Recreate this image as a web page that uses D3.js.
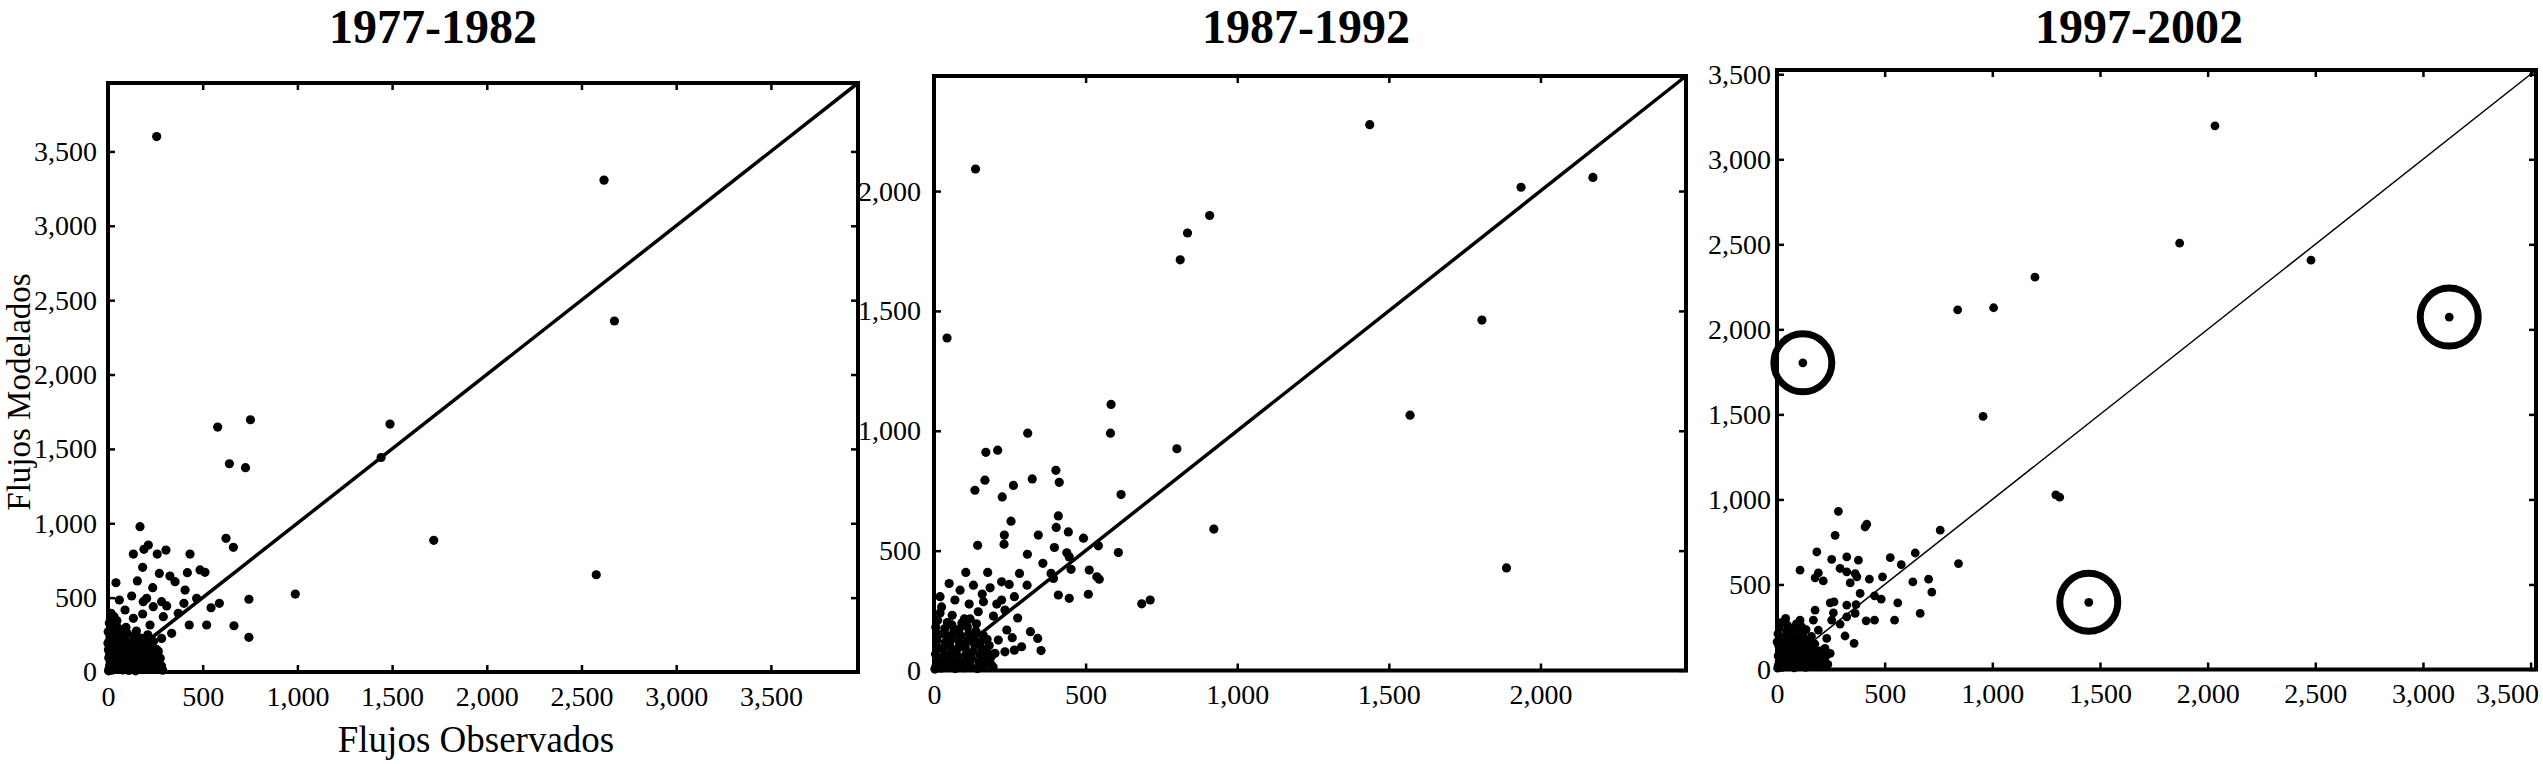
<!DOCTYPE html>
<html><head><meta charset="utf-8">
<script src="https://cdn.jsdelivr.net/npm/d3@7"></script>
<style>
body{margin:0;background:#fff}
text{font-family:"Liberation Serif","Times New Roman",serif;fill:#000}
</style>
</head><body><svg id="c" width="2543" height="764"></svg>
<script>
// ---------- data ----------
const titles = ["1977-1982", "1987-1992", "1997-2002"];
const xLabel = "Flujos Observados";
const yLabel = "Flujos Modelados";

const ticks1977 = [0, 500, 1000, 1500, 2000, 2500, 3000, 3500];
const ticks1987 = [0, 500, 1000, 1500, 2000];
const ticks1997 = [0, 500, 1000, 1500, 2000, 2500, 3000, 3500];
const axisMax = [3960, 2480, 3525];

// [observed, modelled]
const flows1977 = [
  [257,3600],[2619,3307],[2674,2360],[1489,1667],[1442,1442],[752,1696],[579,1647],[641,1400],[726,1374],[1720,885],[2578,654],
  [169,977],[213,854],[190,825],[134,793],[260,793],[306,820],[433,793],[183,704],[271,663],[327,645],[354,607],[419,668],[486,686],[512,670],
  [623,899],[662,838],[42,600],[155,612],[236,567],[407,551],[125,511],[204,495],[468,495],[283,473],[310,444],[401,462],[60,484],[186,473],
  [239,439],[544,432],[588,462],[744,489],[989,524],[429,316],[521,316],[665,311],[744,233],[336,260],[32,372],[90,417],[183,390],[222,316],
  [134,361],[292,372],[371,395],[283,226],[266,137],[266,92],[257,36],[11,238],[0,193],
  [3,8],[6,22],[9,45],[12,70],[4,95],[8,130],[15,160],[5,205],[11,250],[18,290],[7,330],[24,365],[20,12],[26,48],[31,85],[28,120],[35,150],
  [38,185],[33,225],[41,265],[45,310],[52,18],[56,52],[61,90],[58,128],[66,162],[63,198],[71,240],[69,285],[78,14],[83,40],[88,76],[84,108],
  [93,140],[97,178],[91,212],[102,258],[110,10],[114,34],[118,66],[122,100],[127,137],[124,172],[131,205],[138,240],[146,8],[150,45],[155,82],
  [159,118],[163,152],[168,190],[172,228],[180,15],[185,52],[190,90],[195,128],[199,165],[205,206],[212,22],[218,60],[222,98],[228,140],
  [233,175],[241,30],[247,72],[252,110],[258,150],[265,18],[270,55],[276,92],[283,40],[289,12],[2,150],[1,270],[16,395],[47,345],[95,300],
  [150,275],[210,250],[240,205]
];

const flows1987 = [
  [1437,2277],[137,2092],[1936,2016],[2173,2057],[909,1898],[836,1825],[812,1713],[1807,1462],[43,1387],[1570,1065],[1888,428],
  [584,1110],[582,990],[801,925],[309,990],[171,910],[210,919],[168,794],[135,752],[225,724],[262,772],[324,799],[402,835],[413,785],[617,734],
  [923,590],[410,645],[254,623],[403,597],[443,578],[344,565],[493,552],[542,520],[232,565],[231,527],[144,522],[397,513],[608,492],[438,491],
  [308,485],[446,474],[359,447],[452,422],[512,419],[537,391],[545,381],[386,405],[282,405],[177,409],[105,409],[394,384],[410,315],[446,301],
  [509,318],[685,278],[713,294],[307,356],[223,370],[248,359],[185,345],[130,356],[50,363],[86,335],[20,308],[265,308],[223,294],[207,277],
  [159,319],[163,287],[116,277],[69,294],[146,245],[234,252],[276,219],[196,227],[119,215],[318,162],[342,134],[353,83],[289,99],[258,137],
  [240,169],[265,85],[234,78],[201,72],[212,127],
  [3,6],[7,20],[11,42],[5,68],[14,95],[9,125],[17,150],[6,180],[12,210],[20,240],[24,10],[28,35],[33,62],[30,90],[37,118],[41,146],[36,175],
  [44,200],[48,14],[53,44],[57,75],[52,104],[61,132],[65,160],[59,190],[70,8],[74,30],[79,58],[76,88],[84,115],[88,145],[83,172],[92,198],
  [97,12],[101,40],[106,70],[103,98],[111,125],[115,155],[110,182],[120,20],[124,50],[129,80],[134,108],[131,138],[138,165],[143,8],[148,35],
  [152,64],[157,92],[154,120],[162,148],[167,18],[171,48],[176,76],[182,104],[186,30],[190,60],[195,15],[25,265],[60,230],[100,215],[140,195],[175,130]
];

const flows1997 = [
  [2034,3197],[1870,2507],[2480,2407],[1198,2307],[1006,2127],[839,2115],[3122,2072],[120,1803],[957,1488],[1295,1027],[1313,1013],[1448,395],
  [285,930],[417,854],[409,838],[270,789],[758,819],[185,691],[324,662],[378,643],[254,647],[526,658],[642,685],[577,617],[843,623],[107,584],
  [293,594],[324,574],[192,568],[363,564],[177,539],[215,521],[340,509],[371,545],[429,531],[490,545],[631,515],[704,531],[719,455],[386,447],
  [453,433],[484,414],[561,392],[247,392],[265,398],[324,379],[367,382],[665,330],[177,349],[262,333],[363,330],[324,310],[414,286],[453,290],
  [546,290],[254,290],[293,267],[316,197],[358,154],[247,95],[37,290],[107,290],[169,290],[115,251],[192,232],[231,183],[223,124],[60,232],
  [14,192],[0,163],
  [3,8],[6,25],[10,50],[5,80],[13,110],[8,140],[16,175],[4,210],[11,245],[19,275],[24,12],[28,40],[33,70],[30,100],[37,130],[42,160],[36,195],
  [45,225],[49,260],[53,15],[58,45],[62,78],[57,110],[66,140],[70,172],[64,205],[74,240],[80,10],[84,35],[89,65],[86,95],[94,125],[98,158],
  [92,190],[103,220],[108,20],[112,50],[117,82],[114,112],[122,145],[127,178],[120,205],[133,12],[137,40],[142,72],[146,105],[140,135],
  [150,165],[156,28],[161,60],[166,90],[171,122],[176,150],[182,15],[186,48],[192,78],[198,110],[204,35],[210,65],[217,20],[223,50],[230,85],
  [236,30],[160,195],[135,235],[90,268],[40,300]
];

// highlighted (circled) points in 1997-2002
const circled1997 = [[120,1803],[1448,395],[3122,2072]];

// ---------- layout ----------
const layout = [
  {left:108,  right:858,  top:83, bottom:672,   titleX:433,  lineW:3.5, pad:11, r:4.6},
  {left:934,  right:1686, top:76, bottom:670.5, titleX:1306, lineW:3.5, pad:13, r:4.6},
  {left:1777, right:2536, top:70, bottom:669.5, titleX:2139, lineW:1.5, pad:6,  r:4.4}
];
const allData = [flows1977, flows1987, flows1997];
const allTicks = [ticks1977, ticks1987, ticks1997];

const svg = d3.select("#c");
const fmt = d3.format(",");

layout.forEach((L, i) => {
  const max = axisMax[i];
  const x = d3.scaleLinear().domain([0, max]).range([L.left, L.right]);
  const y = d3.scaleLinear().domain([0, max]).range([L.bottom, L.top]);
  const g = svg.append("g");
  const ticks = allTicks[i];

  // title
  svg.append("text").attr("x", L.titleX).attr("y", 43).attr("text-anchor", "middle")
    .style("font-size", "48px").style("font-weight", "bold").text(titles[i]);

  // axes
  const gx = g.append("g").attr("transform", `translate(0,${L.bottom})`)
    .call(d3.axisBottom(x).tickValues(ticks).tickSizeInner(-7).tickSizeOuter(0).tickPadding(14).tickFormat(fmt));
  const gy = g.append("g").attr("transform", `translate(${L.left},0)`)
    .call(d3.axisLeft(y).tickValues(ticks).tickSizeInner(-7).tickSizeOuter(0).tickPadding(L.pad).tickFormat(fmt));
  const gt = g.append("g").attr("transform", `translate(0,${L.top})`)
    .call(d3.axisTop(x).tickValues(ticks).tickSizeInner(-7).tickSizeOuter(0).tickFormat(""));
  const gr = g.append("g").attr("transform", `translate(${L.right},0)`)
    .call(d3.axisRight(y).tickValues(ticks).tickSizeInner(-7).tickSizeOuter(0).tickFormat(""));
  [gx, gy, gt, gr].forEach(a => {
    a.select(".domain").remove();
    a.selectAll("line").attr("stroke", "#000").attr("stroke-width", 2.5);
    a.selectAll("text").attr("font-family", null).style("font-size", "28px").attr("fill", "#000");
  });
  if (i === 2) {
    // last x label pushed inside the page edge
    gx.selectAll(".tick text").filter(d => d === 3500).attr("text-anchor", "end").attr("dx", 8);
  }

  // points
  g.append("g").selectAll("circle").data(allData[i]).join("circle")
    .attr("cx", d => x(d[0])).attr("cy", d => y(d[1])).attr("r", L.r).attr("fill", "#000");

  // 1:1 line
  g.append("line").attr("x1", x(0)).attr("y1", y(0)).attr("x2", x(max)).attr("y2", y(max))
    .attr("stroke", "#000").attr("stroke-width", L.lineW);

  // frame
  g.append("rect").attr("x", L.left).attr("y", L.top)
    .attr("width", L.right - L.left).attr("height", L.bottom - L.top)
    .attr("fill", "none").attr("stroke", "#000").attr("stroke-width", 4);

  if (i === 2) {
    g.append("g").selectAll("circle").data(circled1997).join("circle")
      .attr("cx", d => x(d[0])).attr("cy", d => y(d[1])).attr("r", 29)
      .attr("fill", "none").attr("stroke", "#000").attr("stroke-width", 7);
  }
});

// axis titles
svg.append("text").attr("x", 476).attr("y", 752).attr("text-anchor", "middle")
  .style("font-size", "37px").text(xLabel);
svg.append("text").attr("transform", "translate(30,392) rotate(-90)").attr("text-anchor", "middle")
  .style("font-size", "33px").text(yLabel);
</script>
</body></html>
